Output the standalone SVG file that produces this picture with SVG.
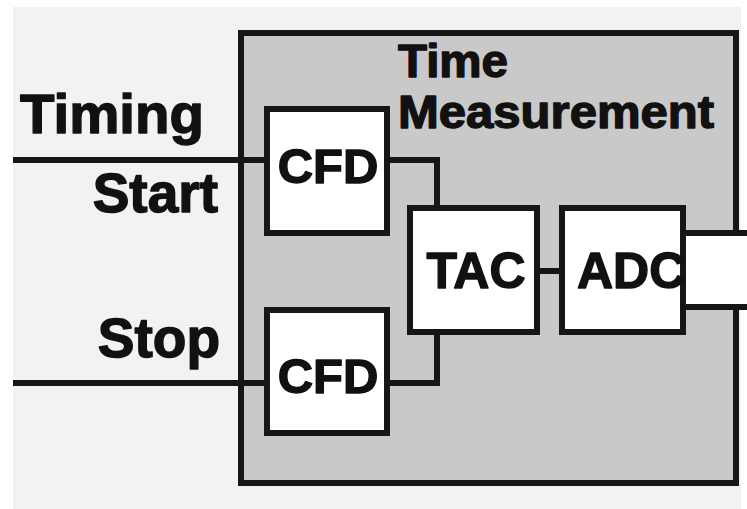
<svg xmlns="http://www.w3.org/2000/svg" width="747" height="509" viewBox="0 0 747 509">
  <style>
    .wire { fill: none; stroke: #161616; stroke-width: 6; stroke-linejoin: miter; }
    .block { fill: #ffffff; stroke: #161616; stroke-width: 6; }
    .lbl { font-family: "Liberation Sans", Arial, sans-serif; font-weight: bold; fill: #111111; stroke: #111111; stroke-width: 1.4; stroke-linejoin: round; }
  </style>

  <!-- page background -->
  <rect x="0" y="0" width="747" height="509" fill="#ffffff"/>
  <rect x="13" y="7" width="728" height="502" fill="#f2f2f2"/>

  <!-- time measurement enclosure -->
  <g id="time-measurement">
    <rect x="241" y="33" width="495" height="450" fill="#c9c9c9"/>
    <rect x="683" y="233" width="64" height="74" fill="#ffffff"/>
    <path class="wire" d="M736,233 V33 H241 V483 H736 V307"/>
    <text class="lbl" x="398" y="77" font-size="47" textLength="110" lengthAdjust="spacingAndGlyphs">Time</text>
    <text class="lbl" x="398" y="128" font-size="47" textLength="316" lengthAdjust="spacingAndGlyphs">Measurement</text>
  </g>

  <!-- signal labels -->
  <g id="labels">
    <text class="lbl" x="20" y="133" font-size="56" textLength="184" lengthAdjust="spacingAndGlyphs">Timing</text>
    <text class="lbl" x="218" y="212" font-size="55" text-anchor="end">Start</text>
    <text class="lbl" x="220" y="357" font-size="55" text-anchor="end">Stop</text>
  </g>

  <!-- connectors -->
  <g id="connectors">
    <path class="wire" d="M13,160 H267"/>
    <path class="wire" d="M13,383 H267"/>
    <path class="wire" d="M387,160 H437 V208"/>
    <path class="wire" d="M387,383 H437 V332"/>
    <path class="wire" d="M537,271 H562"/>
    <path class="wire" d="M683,233 H747"/>
    <path class="wire" d="M683,307 H747"/>
  </g>

  <g id="cfd-start">
    <rect class="block" x="267" y="109" width="120" height="124"/>
    <text class="lbl" x="328" y="183" font-size="49" text-anchor="middle">CFD</text>
  </g>

  <g id="cfd-stop">
    <rect class="block" x="267" y="310" width="120" height="123"/>
    <text class="lbl" x="328" y="393" font-size="49" text-anchor="middle">CFD</text>
  </g>

  <g id="tac">
    <rect class="block" x="410" y="208" width="127" height="124"/>
    <text class="lbl" x="476" y="288" font-size="50" text-anchor="middle">TAC</text>
  </g>

  <g id="adc">
    <rect class="block" x="562" y="208" width="121" height="124"/>
    <text class="lbl" x="577" y="288" font-size="50">ADC</text>
  </g>
</svg>
